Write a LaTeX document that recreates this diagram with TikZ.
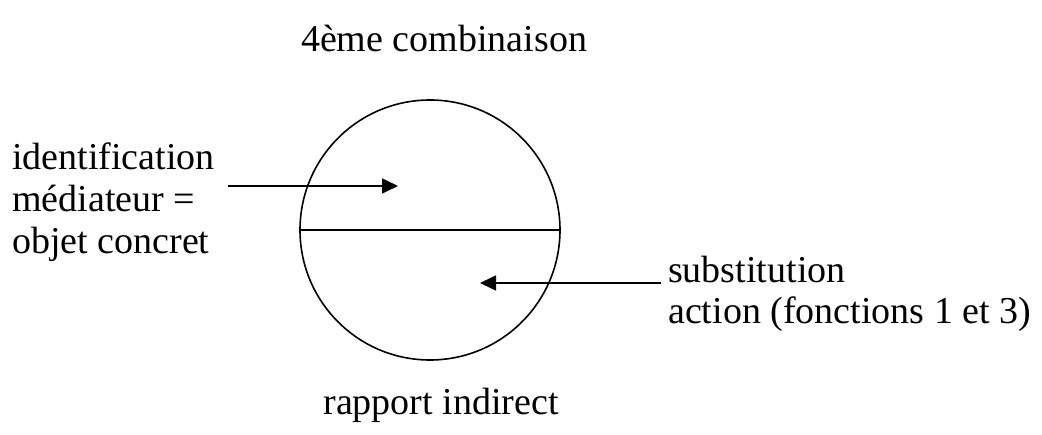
\documentclass[tikz,border=0pt]{standalone}
\usepackage{fontspec}
\setmainfont{Liberation Serif}
\usetikzlibrary{arrows.meta,positioning}

\begin{document}
\begin{tikzpicture}[x=1pt,y=-1pt,
  lbl/.style={font=\fontsize{38}{42}\selectfont,inner sep=0pt,anchor=base west},
  arr/.style={line width=1.6pt,-{Triangle[length=16pt,width=15pt]}}]
\useasboundingbox (0,0) rectangle (1042,435);
% circle split by its diameter
\node[draw,circle,line width=1.6pt,minimum size=260pt,inner sep=0pt] (disc) at (430,230) {};
\draw[line width=1.4pt] (disc.west) -- (disc.east);

\node[lbl,anchor=base] (title) at (444,52) {4ème combinaison};
\node[lbl,anchor=base] (bottom) at (441,415) {rapport indirect};

\node[lbl] (id1) at (12,170) {identification};
\node[lbl] (id2) at (12,212) {médiateur =};
\node[lbl] (id3) at (12,254) {objet concret};

\node[lbl] (sub1) at (668,283) {substitution};
\node[lbl] (sub2) at (668,324) {action (fonctions 1 et 3)};

\coordinate (a1) at (228,186);
\coordinate (b1) at (398,186);
\coordinate (a2) at (661,283);
\coordinate (b2) at (480,283);
\draw[arr] (a1) -- (b1);
\draw[arr] (a2) -- (b2);
\end{tikzpicture}
\end{document}
